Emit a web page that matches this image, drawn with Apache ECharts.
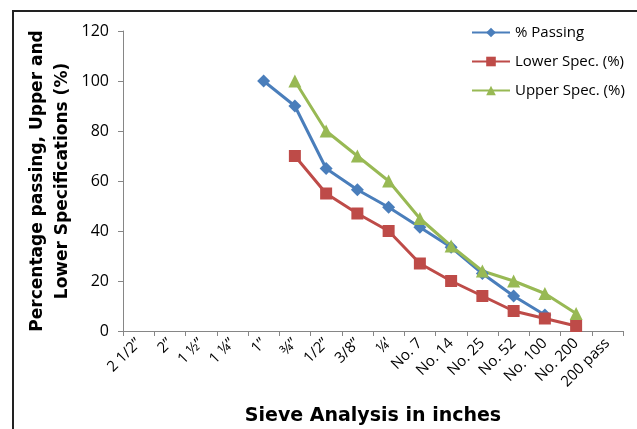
<!DOCTYPE html>
<html><head><meta charset="utf-8">
<script src="https://cdn.jsdelivr.net/npm/echarts@6/dist/echarts.min.js"></script>
<style>html,body{margin:0;padding:0;background:#fff}#c{width:637px;height:429px}</style>
</head><body><div id="c"></div>
<script>
var categories = ['2 1/2\u201D','2\u201D','1 \u00BD\u201D','1 \u00BC\u201D','1\u201D','\u00BE\u201D','1/2\u201D','3/8\u201D','\u00BC\u2019','No. 7','No. 14','No. 25','No. 52','No. 100','No. 200','200 pass'];
var passing = [null,null,null,null,100,90,65,56.5,49.5,41.5,33.5,23,14,6.4,null,null];
var lowerSpec = [null,null,null,null,null,70,55,47,40,27,20,14,8,5,2,null];
var upperSpec = [null,null,null,null,null,100,80,70,60,45,34,24,20,15,7,null];
var yTicks = [0,20,40,60,80,100,120];

var chart = echarts.init(document.getElementById('c'));
chart.setOption({
  animation:false,
  backgroundColor:'#fff',
  textStyle:{fontFamily:'Open Sans, sans-serif'},
  grid:{left:123,right:14,top:31,bottom:98,containLabel:false,outerBoundsMode:'none'},
  legend:{
    orient:'vertical', left:466, top:20, itemWidth:38, itemHeight:12, itemGap:14,
    textStyle:{fontSize:15,color:'#000',fontFamily:'Open Sans, sans-serif'},
    data:['% Passing','Lower Spec. (%)','Upper Spec. (%)']
  },
  graphic:[{type:'polyline',shape:{points:[[13,429],[13,11],[637,11]]},style:{stroke:'#222',lineWidth:2,fill:null}}],
  xAxis:{
    type:'category', data:categories, boundaryGap:true,
    axisLine:{lineStyle:{color:'#868686',width:1}},
    axisTick:{show:true,alignWithLabel:false,length:5,lineStyle:{color:'#868686'}},
    axisLabel:{rotate:45,fontSize:15,color:'#000',margin:10,interval:0,fontFamily:'Open Sans, sans-serif'},
    name:'Sieve Analysis in inches', nameLocation:'middle', nameGap:76, nameMoveOverlap:false,
    nameTextStyle:{fontSize:19,fontWeight:'bold',color:'#000',fontFamily:'DejaVu Sans, sans-serif'}
  },
  yAxis:{
    type:'value', min:yTicks[0], max:yTicks[yTicks.length-1], interval:20,
    splitLine:{show:false},
    axisLine:{show:true,lineStyle:{color:'#868686',width:1}},
    axisTick:{show:true,length:5,lineStyle:{color:'#868686'}},
    axisLabel:{fontSize:16,color:'#000',margin:14,fontFamily:'Open Sans, sans-serif'},
    name:'Percentage passing, Upper and\nLower Specifications (%)', nameLocation:'middle', nameGap:48, nameRotate:90, nameMoveOverlap:false,
    nameTextStyle:{fontSize:17,fontWeight:'bold',color:'#000',lineHeight:25,fontFamily:'DejaVu Sans, sans-serif'}
  },
  series:[
    {name:'% Passing',type:'line',data:passing,symbol:'diamond',symbolSize:13,
     itemStyle:{color:'#4a7ebb'},lineStyle:{width:3,color:'#4a7ebb'}},
    {name:'Lower Spec. (%)',type:'line',data:lowerSpec,symbol:'rect',symbolSize:12,
     itemStyle:{color:'#be4b48'},lineStyle:{width:3,color:'#be4b48'}},
    {name:'Upper Spec. (%)',type:'line',data:upperSpec,symbol:'triangle',symbolSize:13,
     itemStyle:{color:'#98b954'},lineStyle:{width:3,color:'#98b954'}}
  ]
});
</script></body></html>
